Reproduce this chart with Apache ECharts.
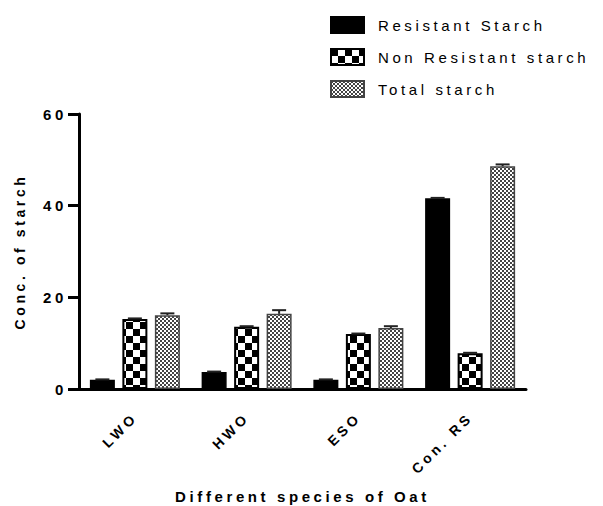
<!DOCTYPE html>
<html>
<head>
<meta charset="utf-8">
<script src="https://cdn.jsdelivr.net/npm/echarts@6/dist/echarts.min.js"></script>
<style>
html, body { margin: 0; padding: 0; background: #fff; }
#main { width: 603px; height: 506px; }
/* 原图文字字距较宽 */
#main text { letter-spacing: 3.6px; }
</style>
</head>
<body>
<div id="main"></div>
<script>
// 数据
const categories = ['LWO', 'HWO', 'ESO', 'Con. RS'];
const resistant = [2.0, 3.7, 2.0, 41.6];
const nonResistant = [15.3, 13.6, 12.0, 7.8];
const totalStarch = [16.1, 16.4, 13.3, 48.6];
const resistantErr = [0.1, 0.1, 0.1, 0.1];
const nonResistantErr = [0.1, 0.1, 0.1, 0.1];
const totalErr = [0.4, 0.8, 0.4, 0.4];
const yTicks = [0, 20, 40, 60];

// 棋盘格填充
function checker(size, c1, c2) {
    const cv = document.createElement('canvas');
    cv.width = size * 2;
    cv.height = size * 2;
    const ctx = cv.getContext('2d');
    ctx.fillStyle = c2;
    ctx.fillRect(0, 0, size * 2, size * 2);
    ctx.fillStyle = c1;
    ctx.fillRect(0, 0, size, size);
    ctx.fillRect(size, size, size, size);
    return { image: cv, repeat: 'repeat' };
}

const font = 'Liberation Sans';
const barW = 25;
const offsets = [-32.5, 0, 32.5];

function errSeries(name, vals, errs, off) {
    return {
        type: 'custom',
        name: name + ' err',
        silent: true,
        z: 5,
        data: vals.map((v, i) => [i, v, errs[i]]),
        renderItem(params, api) {
            const top = api.coord([api.value(0), api.value(1) + api.value(2)]);
            const base = api.coord([api.value(0), api.value(1)]);
            const x = base[0] + off;
            return {
                type: 'group',
                children: [
                    { type: 'line', shape: { x1: x, y1: base[1], x2: x, y2: top[1] }, style: { stroke: '#222', lineWidth: 2 } },
                    { type: 'line', shape: { x1: x - 7, y1: top[1], x2: x + 7, y2: top[1] }, style: { stroke: '#222', lineWidth: 2 } }
                ]
            };
        }
    };
}

const chart = echarts.init(document.getElementById('main'), null, { renderer: 'svg' });

chart.setOption({
    animation: false,
    textStyle: { fontFamily: font, color: '#000' },
    legend: {
        orient: 'vertical',
        left: 325,
        top: 11,
        icon: 'rect',
        itemWidth: 33,
        itemHeight: 16,
        itemGap: 14,
        textStyle: { fontFamily: font, fontSize: 15, color: '#000', padding: [0, 0, 0, 9] },
        data: ['Resistant Starch', 'Non Resistant starch', 'Total starch']
    },
    grid: { left: 79, right: 77, top: 114, bottom: 117, outerBoundsMode: 'none' },
    xAxis: {
        type: 'category',
        data: categories,
        name: 'Different species of Oat',
        nameLocation: 'middle',
        nameGap: 100,
        nameTextStyle: { fontFamily: font, fontSize: 15, fontWeight: 'bold', color: '#000' },
        axisLine: { lineStyle: { color: '#000', width: 3 } },
        axisTick: { alignWithLabel: true, length: 8, lineStyle: { color: '#000', width: 3 } },
        axisLabel: { rotate: 45, margin: 26, fontFamily: font, fontSize: 14, fontWeight: 'bold', color: '#000' }
    },
    yAxis: {
        type: 'value',
        min: yTicks[0],
        max: yTicks[yTicks.length - 1],
        interval: 20,
        name: 'Conc. of starch',
        nameLocation: 'middle',
        nameGap: 52,
        nameTextStyle: { fontFamily: font, fontSize: 14, fontWeight: 'bold', color: '#000' },
        axisLine: { show: true, lineStyle: { color: '#000', width: 3 } },
        axisTick: { show: true, length: 11, lineStyle: { color: '#000', width: 3 } },
        axisLabel: { margin: 12, fontFamily: font, fontSize: 15, fontWeight: 'bold', color: '#000' },
        splitLine: { show: false }
    },
    series: [
        {
            name: 'Resistant Starch',
            type: 'bar',
            barWidth: barW,
            barGap: '30%',
            data: resistant,
            itemStyle: { color: '#000', borderColor: '#000', borderWidth: 1.5 }
        },
        {
            name: 'Non Resistant starch',
            type: 'bar',
            barWidth: barW,
            barGap: '30%',
            data: nonResistant,
            itemStyle: { color: checker(7, '#000', '#fff'), borderColor: '#000', borderWidth: 2 }
        },
        {
            name: 'Total starch',
            type: 'bar',
            barWidth: barW,
            barGap: '30%',
            data: totalStarch,
            itemStyle: { color: checker(2, '#444', '#fff'), borderColor: '#444', borderWidth: 1.5 }
        },
        errSeries('Resistant Starch', resistant, resistantErr, offsets[0]),
        errSeries('Non Resistant starch', nonResistant, nonResistantErr, offsets[1]),
        errSeries('Total starch', totalStarch, totalErr, offsets[2])
    ]
});
</script>
</body>
</html>
